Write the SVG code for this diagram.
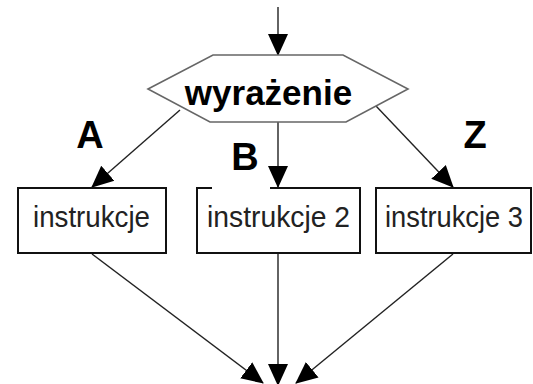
<svg xmlns="http://www.w3.org/2000/svg" width="533" height="384" viewBox="0 0 533 384">
  <style>
    .box { fill: #fff; stroke: #111; stroke-width: 2; }
    .hex { fill: #fff; stroke: #666; stroke-width: 1.6; }
    .edge { stroke: #222; stroke-width: 1.4; fill: none; marker-end: url(#head); }
    .lbl { font-family: "Liberation Sans", Arial, sans-serif; font-weight: bold; fill: #000; }
    .txt { font-family: "Liberation Sans", Arial, sans-serif; fill: #222; font-size: 29px; }
  </style>
  <defs>
    <marker id="head" markerUnits="userSpaceOnUse" markerWidth="22" markerHeight="22" viewBox="0 0 22 22" refX="21" refY="11" orient="auto">
      <path d="M0,1 L22,11 L0,21 Z" fill="#000"/>
    </marker>
  </defs>

  <!-- connectors -->
  <g id="connectors">
    <line class="edge" x1="278" y1="7" x2="278" y2="55"/>
    <line class="edge" x1="278" y1="122" x2="278" y2="187"/>
    <line class="edge" x1="180" y1="110" x2="92" y2="187"/>
    <line class="edge" x1="376" y1="106" x2="453" y2="187"/>
    <line class="edge" x1="92" y1="254" x2="263" y2="383"/>
    <line class="edge" x1="278" y1="254" x2="278" y2="385"/>
    <line class="edge" x1="453" y1="254" x2="296" y2="383"/>
  </g>

  <!-- decision -->
  <g id="decision">
    <polygon class="hex" points="148,89 213,55 343,55 408,89 346,122 210,122"/>
    <text class="lbl" x="268.5" y="105" font-size="35" text-anchor="middle">wyrażenie</text>
  </g>

  <!-- branch labels -->
  <g id="label-a"><text class="lbl" x="90" y="148" font-size="38" text-anchor="middle">A</text></g>
  <g id="label-b"><text class="lbl" x="245" y="170" font-size="38" text-anchor="middle">B</text></g>
  <g id="label-z"><text class="lbl" x="475" y="148" font-size="38" text-anchor="middle">Z</text></g>

  <!-- statement blocks -->
  <g id="block-1">
    <rect class="box" x="18" y="188" width="148" height="65"/>
    <text class="txt" x="91.5" y="227" text-anchor="middle" textLength="117" lengthAdjust="spacingAndGlyphs">instrukcje</text>
  </g>
  <g id="block-2">
    <path class="box" d="M270,188 H360 V253 H197 V188 H212"/>
    <text class="txt" x="278.5" y="227" text-anchor="middle" textLength="143" lengthAdjust="spacingAndGlyphs">instrukcje 2</text>
  </g>
  <g id="block-3">
    <rect class="box" x="376" y="188" width="155" height="65"/>
    <text class="txt" x="454" y="227" text-anchor="middle" textLength="138" lengthAdjust="spacingAndGlyphs">instrukcje 3</text>
  </g>
</svg>
